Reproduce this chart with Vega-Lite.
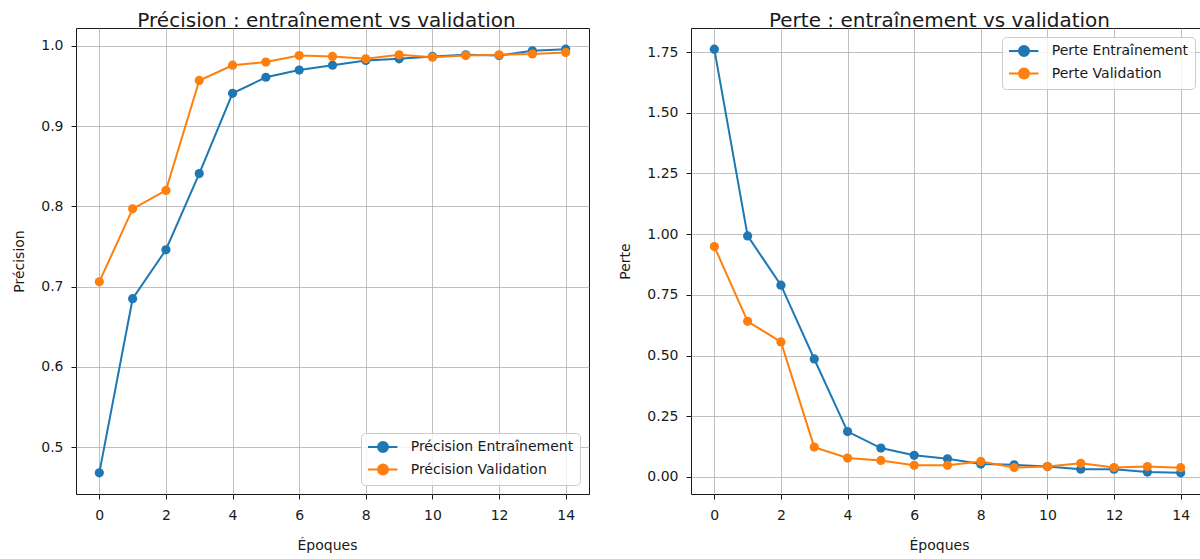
{
  "$schema": "https://vega.github.io/schema/vega-lite/v6.json",
  "background": "white",
  "padding": {"left": 12, "top": 10, "right": 0, "bottom": 0},
  "config": {
    "font": "DejaVu Sans",
    "view": {"stroke": "#1a1a1a", "strokeWidth": 1},
    "axis": {
      "domain": false, "grid": true, "gridColor": "#b0b0b0", "gridWidth": 0.8,
      "tickColor": "#1a1a1a", "tickWidth": 1, "tickSize": 5,
      "labelFont": "DejaVu Sans", "labelFontSize": 14, "labelColor": "#1a1a1a",
      "titleFont": "DejaVu Sans", "titleFontSize": 14, "titleFontWeight": "normal", "titleColor": "#1a1a1a"
    },
    "axisX": {"labelPadding": 9, "titlePadding": 16},
    "axisY": {"labelPadding": 8, "titlePadding": 14},
    "title": {"font": "DejaVu Sans", "fontSize": 20, "fontWeight": "normal", "color": "#1a1a1a", "offset": -3, "baseline": "alphabetic", "anchor": "middle", "frame": "group"},
    "legend": {
      "title": null, "padding": 6, "fillColor": "rgba(255,255,255,0.8)", "strokeColor": "#cccccc", "cornerRadius": 4,
      "symbolType": "M-1,0H3.2M1.857,0A0.714,0.714,0,1,1,0.429,0A0.714,0.714,0,1,1,1.857,0",
      "symbolSize": 196, "symbolStrokeWidth": 2, "labelFont": "DejaVu Sans", "labelFontSize": 14, "labelColor": "#1a1a1a",
      "labelOffset": 27.7, "labelLimit": 400, "rowPadding": 4.5, "offset": 9
    }
  },
  "datasets": {
    "acc": [
      {"epoch": 0, "serie": "Précision Entraînement", "value": 0.468},
      {"epoch": 1, "serie": "Précision Entraînement", "value": 0.685},
      {"epoch": 2, "serie": "Précision Entraînement", "value": 0.746},
      {"epoch": 3, "serie": "Précision Entraînement", "value": 0.841},
      {"epoch": 4, "serie": "Précision Entraînement", "value": 0.941},
      {"epoch": 5, "serie": "Précision Entraînement", "value": 0.961},
      {"epoch": 6, "serie": "Précision Entraînement", "value": 0.970},
      {"epoch": 7, "serie": "Précision Entraînement", "value": 0.976},
      {"epoch": 8, "serie": "Précision Entraînement", "value": 0.982},
      {"epoch": 9, "serie": "Précision Entraînement", "value": 0.984},
      {"epoch": 10, "serie": "Précision Entraînement", "value": 0.987},
      {"epoch": 11, "serie": "Précision Entraînement", "value": 0.989},
      {"epoch": 12, "serie": "Précision Entraînement", "value": 0.988},
      {"epoch": 13, "serie": "Précision Entraînement", "value": 0.994},
      {"epoch": 14, "serie": "Précision Entraînement", "value": 0.996},
      {"epoch": 0, "serie": "Précision Validation", "value": 0.706},
      {"epoch": 1, "serie": "Précision Validation", "value": 0.797},
      {"epoch": 2, "serie": "Précision Validation", "value": 0.820},
      {"epoch": 3, "serie": "Précision Validation", "value": 0.957},
      {"epoch": 4, "serie": "Précision Validation", "value": 0.976},
      {"epoch": 5, "serie": "Précision Validation", "value": 0.980},
      {"epoch": 6, "serie": "Précision Validation", "value": 0.988},
      {"epoch": 7, "serie": "Précision Validation", "value": 0.987},
      {"epoch": 8, "serie": "Précision Validation", "value": 0.984},
      {"epoch": 9, "serie": "Précision Validation", "value": 0.989},
      {"epoch": 10, "serie": "Précision Validation", "value": 0.986},
      {"epoch": 11, "serie": "Précision Validation", "value": 0.988},
      {"epoch": 12, "serie": "Précision Validation", "value": 0.989},
      {"epoch": 13, "serie": "Précision Validation", "value": 0.990},
      {"epoch": 14, "serie": "Précision Validation", "value": 0.992}
    ],
    "loss": [
      {"epoch": 0, "serie": "Perte Entraînement", "value": 1.762},
      {"epoch": 1, "serie": "Perte Entraînement", "value": 0.993},
      {"epoch": 2, "serie": "Perte Entraînement", "value": 0.790},
      {"epoch": 3, "serie": "Perte Entraînement", "value": 0.486},
      {"epoch": 4, "serie": "Perte Entraînement", "value": 0.187},
      {"epoch": 5, "serie": "Perte Entraînement", "value": 0.119},
      {"epoch": 6, "serie": "Perte Entraînement", "value": 0.089},
      {"epoch": 7, "serie": "Perte Entraînement", "value": 0.075},
      {"epoch": 8, "serie": "Perte Entraînement", "value": 0.053},
      {"epoch": 9, "serie": "Perte Entraînement", "value": 0.050},
      {"epoch": 10, "serie": "Perte Entraînement", "value": 0.043},
      {"epoch": 11, "serie": "Perte Entraînement", "value": 0.032},
      {"epoch": 12, "serie": "Perte Entraînement", "value": 0.032},
      {"epoch": 13, "serie": "Perte Entraînement", "value": 0.020},
      {"epoch": 14, "serie": "Perte Entraînement", "value": 0.017},
      {"epoch": 0, "serie": "Perte Validation", "value": 0.949},
      {"epoch": 1, "serie": "Perte Validation", "value": 0.641},
      {"epoch": 2, "serie": "Perte Validation", "value": 0.556},
      {"epoch": 3, "serie": "Perte Validation", "value": 0.123},
      {"epoch": 4, "serie": "Perte Validation", "value": 0.078},
      {"epoch": 5, "serie": "Perte Validation", "value": 0.068},
      {"epoch": 6, "serie": "Perte Validation", "value": 0.048},
      {"epoch": 7, "serie": "Perte Validation", "value": 0.048},
      {"epoch": 8, "serie": "Perte Validation", "value": 0.064},
      {"epoch": 9, "serie": "Perte Validation", "value": 0.039},
      {"epoch": 10, "serie": "Perte Validation", "value": 0.043},
      {"epoch": 11, "serie": "Perte Validation", "value": 0.056},
      {"epoch": 12, "serie": "Perte Validation", "value": 0.039},
      {"epoch": 13, "serie": "Perte Validation", "value": 0.043},
      {"epoch": 14, "serie": "Perte Validation", "value": 0.038}
    ]
  },
  "spacing": 102,
  "bounds": "flush",
  "resolve": {"scale": {"color": "shared"}, "legend": {"color": "independent"}},
  "hconcat": [
    {
      "width": 513, "height": 466,
      "title": {"text": "Précision : entraînement vs validation", "dx": -6},
      "data": {"name": "acc"},
      "mark": {"type": "line", "strokeWidth": 2, "point": {"filled": true, "size": 85, "opacity": 1}},
      "encoding": {
        "x": {"field": "epoch", "type": "quantitative", "scale": {"domain": [-0.7, 14.7], "nice": false, "zero": false},
              "axis": {"values": [0, 2, 4, 6, 8, 10, 12, 14], "title": "Époques", "titleX": 251}},
        "y": {"field": "value", "type": "quantitative", "scale": {"domain": [0.4416, 1.0224], "nice": false, "zero": false},
              "axis": {"values": [0.5, 0.6, 0.7, 0.8, 0.9, 1.0], "format": ".1f", "title": "Précision"}},
        "color": {"field": "serie", "type": "nominal",
                  "scale": {"domain": ["Précision Entraînement", "Précision Validation", "Perte Entraînement", "Perte Validation"], "range": ["#1f77b4", "#ff7f0e", "#1f77b4", "#ff7f0e"]},
                  "legend": {"values": ["Précision Entraînement", "Précision Validation"], "orient": "bottom-right",
                             "encode": {"symbols": {"update": {"fill": {"scale": "color", "field": "value"}, "stroke": {"scale": "color", "field": "value"}, "opacity": {"value": 1}}}}}}
      }
    },
    {
      "width": 513, "height": 466,
      "title": {"text": "Perte : entraînement vs validation", "dx": -8},
      "data": {"name": "loss"},
      "mark": {"type": "line", "strokeWidth": 2, "point": {"filled": true, "size": 85, "opacity": 1}},
      "encoding": {
        "x": {"field": "epoch", "type": "quantitative", "scale": {"domain": [-0.7, 14.7], "nice": false, "zero": false},
              "axis": {"values": [0, 2, 4, 6, 8, 10, 12, 14], "title": "Époques", "titleX": 248}},
        "y": {"field": "value", "type": "quantitative", "scale": {"domain": [-0.0702, 1.8493], "nice": false, "zero": false},
              "axis": {"values": [0, 0.25, 0.5, 0.75, 1.0, 1.25, 1.5, 1.75], "format": ".2f", "title": "Perte"}},
        "color": {"field": "serie", "type": "nominal",
                  "legend": {"values": ["Perte Entraînement", "Perte Validation"], "orient": "top-right",
                             "encode": {"symbols": {"update": {"fill": {"scale": "color", "field": "value"}, "stroke": {"scale": "color", "field": "value"}, "opacity": {"value": 1}}}}}}
      }
    }
  ]
}
